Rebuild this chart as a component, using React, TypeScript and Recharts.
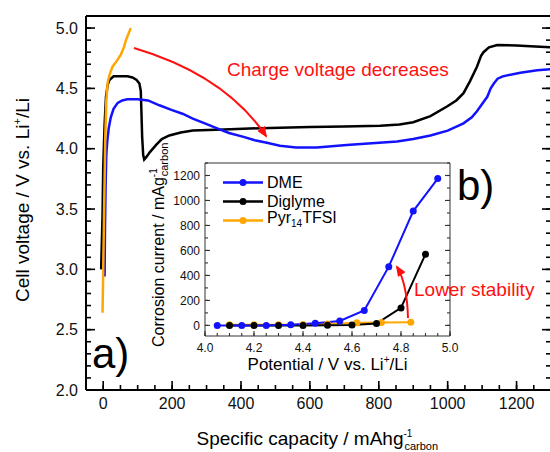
import React from "react";
import { LineChart, Line, XAxis, YAxis, Legend } from "recharts";

const FONT = "'Liberation Sans', Arial, Helvetica, sans-serif";

// panel a) first charge curves: capacity (mAh/g carbon) vs cell voltage (V)
const diglymeCapacity = [-6, -2, 0, 4, 8, 13, 18, 30, 47, 70, 85, 97, 105, 109, 111, 113, 116, 119, 125, 135, 153, 170, 192, 225, 260, 350, 455, 600, 700, 804, 860, 900, 950, 998, 1025, 1046, 1065, 1085, 1097, 1104, 1120, 1144, 1200, 1240, 1300];
const diglymeVoltage = [3.0, 3.45, 3.85, 4.2, 4.43, 4.53, 4.57, 4.6, 4.6, 4.6, 4.59, 4.57, 4.54, 4.48, 4.3, 4.1, 3.95, 3.91, 3.93, 3.97, 4.03, 4.08, 4.11, 4.135, 4.15, 4.16, 4.17, 4.18, 4.185, 4.19, 4.2, 4.22, 4.27, 4.35, 4.4, 4.46, 4.56, 4.68, 4.77, 4.8, 4.84, 4.86, 4.855, 4.85, 4.84];

const dmeCapacity = [4, 5, 7, 9, 12, 16, 22, 30, 42, 55, 70, 100, 130, 163, 200, 230, 260, 295, 329, 365, 405, 440, 475, 513, 560, 620, 707, 780, 853, 900, 950, 1000, 1046, 1070, 1085, 1100, 1115, 1125, 1134, 1145, 1160, 1211, 1260, 1300];
const dmeVoltage = [2.94, 3.3, 3.71, 3.95, 4.07, 4.17, 4.26, 4.33, 4.38, 4.4, 4.41, 4.41, 4.4, 4.36, 4.32, 4.29, 4.25, 4.21, 4.17, 4.13, 4.1, 4.07, 4.05, 4.025, 4.01, 4.01, 4.03, 4.045, 4.06, 4.08, 4.11, 4.15, 4.21, 4.26, 4.31, 4.37, 4.43, 4.5, 4.54, 4.58, 4.6, 4.63, 4.65, 4.66];

const pyrCapacity = [-2, 0, 3, 6, 9, 13, 18, 27, 40, 51, 60, 66, 73, 80];
const pyrVoltage = [2.64, 3.0, 3.57, 4.1, 4.4, 4.55, 4.61, 4.68, 4.73, 4.78, 4.84, 4.9, 4.95, 5.0];

// panel b) corrosion current (mA/g carbon) vs potential (V vs Li+/Li)
const dmePotential = [4.05, 4.15, 4.25, 4.35, 4.45, 4.55, 4.65, 4.75, 4.85, 4.95];
const dmeCurrent = [0, 0, 0, 5, 18, 35, 120, 470, 915, 1175];

const diglymePotential = [4.1, 4.2, 4.3, 4.4, 4.5, 4.6, 4.7, 4.8, 4.9];
const diglymeCurrent = [0, 0, 0, 0, 2, 3, 15, 140, 570];

const pyrPotential = [4.1, 4.2, 4.3, 4.4, 4.5, 4.62, 4.72, 4.84];
const pyrCurrent = [5, 5, 6, 8, 12, 22, 24, 26];

// tick positions (major ones get a label)
const capTicks = [-50, 0, 50, 100, 150, 200, 250, 300, 350, 400, 450, 500, 550, 600, 650, 700, 750, 800, 850, 900, 950, 1000, 1050, 1100, 1150, 1200, 1250, 1300];
const voltTicks = [2.0, 2.1, 2.2, 2.3, 2.4, 2.5, 2.6, 2.7, 2.8, 2.9, 3.0, 3.1, 3.2, 3.3, 3.4, 3.5, 3.6, 3.7, 3.8, 3.9, 4.0, 4.1, 4.2, 4.3, 4.4, 4.5, 4.6, 4.7, 4.8, 4.9, 5.0, 5.1];
const potTicks = [4.0, 4.05, 4.1, 4.15, 4.2, 4.25, 4.3, 4.35, 4.4, 4.45, 4.5, 4.55, 4.6, 4.65, 4.7, 4.75, 4.8, 4.85, 4.9, 4.95, 5.0];
const curTicks = [0, 100, 200, 300, 400, 500, 600, 700, 800, 900, 1000, 1100, 1200, 1300];

const BLUE = "#1212ff";
const BLACK = "#000000";
const ORANGE = "#ffa600";
const RED = "#ff1010";

const zip = (xs: number[], ys: number[]) => xs.map((c, i) => ({ c, v: ys[i] }));

const diglymeCurve = zip(diglymeCapacity, diglymeVoltage);
const dmeCurve = zip(dmeCapacity, dmeVoltage);
const pyrCurve = zip(pyrCapacity, pyrVoltage);
const dmeCorr = zip(dmePotential, dmeCurrent);
const diglymeCorr = zip(diglymePotential, diglymeCurrent);
const pyrCorr = zip(pyrPotential, pyrCurrent);

const insetSeries = [
  { key: "dme", color: BLUE, label: <>DME</> },
  { key: "diglyme", color: BLACK, label: <>Diglyme</> },
  {
    key: "pyr",
    color: ORANGE,
    label: (
      <>
        Pyr<sub style={{ fontSize: 10, verticalAlign: -4 }}>14</sub>TFSI
      </>
    ),
  },
];

const isMultiple = (v: number, step: number) =>
  Math.abs(v / step - Math.round(v / step)) < 1e-6;

type TickOpts = {
  side: "bottom" | "top" | "left" | "right";
  step: number;
  inset: number; // |tickSize| of the built-in (negative, inward) tick line
  majorLen: number;
  stroke: string;
  strokeWidth: number;
  label?: (v: number) => string;
  fontSize?: number;
  gap?: number;
};

// built-in tick lines point inward (negative tickSize); this adds the longer
// major marks and the labels, measured from the axis line
const tickRenderer = (o: TickOpts) => (props: any) => {
  const x = Number(props.x);
  const y = Number(props.y);
  const v = props.payload.value;
  const big = isMultiple(v, o.step);
  const fs = o.fontSize || 16;
  const g = o.gap || 0;
  let l: number[] | null = null;
  let text = null;
  if (o.side === "bottom") {
    const ay = y + o.inset;
    if (big) l = [x, ay, x, ay - o.majorLen];
    if (big && o.label)
      text = (
        <text x={x} y={ay + g} textAnchor="middle" fontSize={fs} fontFamily={FONT} fill="#111">
          {o.label(v)}
        </text>
      );
  } else if (o.side === "top") {
    const ay = y - o.inset;
    if (big) l = [x, ay, x, ay + o.majorLen];
  } else if (o.side === "left") {
    const ax = x - o.inset;
    if (big) l = [ax, y, ax + o.majorLen, y];
    if (big && o.label)
      text = (
        <text x={ax - g} y={y + fs * 0.36} textAnchor="end" fontSize={fs} fontFamily={FONT} fill="#111">
          {o.label(v)}
        </text>
      );
  } else {
    const ax = x + o.inset;
    if (big) l = [ax, y, ax - o.majorLen, y];
  }
  return (
    <g>
      {l && <path d={`M${l[0]},${l[1]}L${l[2]},${l[3]}`} stroke={o.stroke} strokeWidth={o.strokeWidth} fill="none" />}
      {text}
    </g>
  );
};

const mainAxis = { stroke: "#000", strokeWidth: 2 };
const mainTickLine = { stroke: "#000", strokeWidth: 1.6 };
const insetAxis = { stroke: "#333", strokeWidth: 1 };
const insetTickLine = { stroke: "#333", strokeWidth: 1.1 };

const MainXLabel = (p: any) => {
  const vb = p.viewBox;
  const x = vb.x + vb.width / 2 - 122;
  const y = vb.y + 55;
  return (
    <text x={x} y={y} fontSize={19} fontFamily={FONT} fill="#000">
      Specific capacity / mAhg
      <tspan dy={-8} fontSize={10}>-1</tspan>
      <tspan dx={-8} dy={13} fontSize={11}>carbon</tspan>
    </text>
  );
};

const MainYLabel = (p: any) => {
  const vb = p.viewBox;
  const x = vb.x + 29;
  const y = vb.y + vb.height / 2 - 3;
  return (
    <text x={x} y={y} transform={`rotate(-90, ${x}, ${y})`} textAnchor="middle" fontSize={19} fontFamily={FONT} fill="#000">
      Cell voltage / V vs. Li
      <tspan dy={-8} fontSize={11}>+</tspan>
      <tspan dy={8}>/Li</tspan>
    </text>
  );
};

const InsetXLabel = (p: any) => {
  const vb = p.viewBox;
  const x = vb.x + vb.width / 2;
  const y = vb.y + 34;
  return (
    <text x={x} y={y} textAnchor="middle" fontSize={17} fontFamily={FONT} fill="#000">
      Potential / V vs. Li
      <tspan dy={-7} fontSize={10}>+</tspan>
      <tspan dy={7}>/Li</tspan>
    </text>
  );
};

const InsetYLabel = (p: any) => {
  const vb = p.viewBox;
  const x = vb.x + 24;
  const y = vb.y + vb.height + 11;
  return (
    <text x={x} y={y} transform={`rotate(-90, ${x}, ${y})`} textAnchor="start" fontSize={16} fontFamily={FONT} fill="#000">
      Corrosion current / mAg
      <tspan dy={-7} fontSize={10}>-1</tspan>
      <tspan dx={-8} dy={11} fontSize={11}>carbon</tspan>
    </text>
  );
};

const renderLegend = () => (
  <div style={{ fontFamily: FONT, fontSize: 16, color: "#000", lineHeight: "19px" }}>
    {insetSeries.map((s) => (
      <div key={s.key} style={{ display: "flex", alignItems: "center", height: 19 }}>
        <svg width={44} height={19}>
          <line x1={0} x2={40} y1={9.5} y2={9.5} stroke={s.color} strokeWidth={2.5} />
          <circle cx={20} cy={9.5} r={3.5} fill={s.color} />
        </svg>
        <span>{s.label}</span>
      </div>
    ))}
  </div>
);

const App = () => {
  return (
    <div style={{ position: "absolute", left: 0, top: 0, width: 550, height: 452, overflow: "hidden", background: "#fff" }}>
      <div style={{ position: "absolute", left: 0, top: 0 }}>
        <LineChart width={553} height={452} margin={{ top: 15, right: 1, bottom: 0, left: 0 }}>
          <XAxis
            xAxisId="cap"
            dataKey="c"
            type="number"
            domain={[-50, 1300]}
            ticks={capTicks}
            interval={0}
            allowDataOverflow
            height={62}
            tickSize={-5}
            tickMargin={0}
            tickLine={mainTickLine}
            axisLine={mainAxis}
            tick={tickRenderer({ side: "bottom", step: 200, inset: 5, majorLen: 9, stroke: "#000", strokeWidth: 1.6, label: (v) => `${v}`, fontSize: 16, gap: 19 })}
            label={{ content: MainXLabel }}
          />
          <XAxis
            xAxisId="capTop"
            orientation="top"
            type="number"
            domain={[-50, 1300]}
            ticks={capTicks}
            interval={0}
            allowDataOverflow
            height={1}
            tickSize={-5}
            tickMargin={0}
            tickLine={mainTickLine}
            axisLine={mainAxis}
            tick={tickRenderer({ side: "top", step: 200, inset: 5, majorLen: 9, stroke: "#000", strokeWidth: 1.6 })}
          />
          <YAxis
            yAxisId="volt"
            type="number"
            domain={[2, 5.1]}
            ticks={voltTicks}
            interval={0}
            allowDataOverflow
            width={86}
            tickSize={-5}
            tickMargin={0}
            tickLine={mainTickLine}
            axisLine={mainAxis}
            tick={tickRenderer({ side: "left", step: 0.5, inset: 5, majorLen: 9, stroke: "#000", strokeWidth: 1.6, label: (v) => v.toFixed(1), fontSize: 16, gap: 8 })}
            label={{ content: MainYLabel }}
          />
          <YAxis
            yAxisId="voltRight"
            orientation="right"
            type="number"
            domain={[2, 5.1]}
            ticks={voltTicks}
            interval={0}
            allowDataOverflow
            width={1}
            tickSize={-5}
            tickMargin={0}
            tickLine={mainTickLine}
            axisLine={mainAxis}
            tick={tickRenderer({ side: "right", step: 0.5, inset: 5, majorLen: 9, stroke: "#000", strokeWidth: 1.6 })}
          />
          <Line xAxisId="cap" yAxisId="volt" data={diglymeCurve} dataKey="v" name="Diglyme" stroke={BLACK} strokeWidth={2.5} dot={false} activeDot={false} isAnimationActive={false} />
          <Line xAxisId="cap" yAxisId="volt" data={dmeCurve} dataKey="v" name="DME" stroke={BLUE} strokeWidth={2.5} dot={false} activeDot={false} isAnimationActive={false} />
          <Line xAxisId="cap" yAxisId="volt" data={pyrCurve} dataKey="v" name="Pyr14TFSI" stroke={ORANGE} strokeWidth={2.5} dot={false} activeDot={false} isAnimationActive={false} />
        </LineChart>
      </div>

      <div style={{ position: "absolute", left: 140, top: 140 }}>
        <LineChart width={320} height={240} margin={{ top: 22, right: 9, bottom: 0, left: 0 }}>
          <XAxis
            xAxisId="pot"
            dataKey="c"
            type="number"
            domain={[4, 5]}
            ticks={potTicks}
            interval={0}
            allowDataOverflow
            height={44}
            tickSize={-3}
            tickMargin={0}
            tickLine={insetTickLine}
            axisLine={insetAxis}
            tick={tickRenderer({ side: "bottom", step: 0.2, inset: 3, majorLen: 5, stroke: "#333", strokeWidth: 1.1, label: (v) => v.toFixed(1), fontSize: 12, gap: 16 })}
            label={{ content: InsetXLabel }}
          />
          <XAxis
            xAxisId="potTop"
            orientation="top"
            type="number"
            domain={[4, 5]}
            ticks={potTicks}
            interval={0}
            allowDataOverflow
            height={1}
            tickSize={-3}
            tickMargin={0}
            tickLine={insetTickLine}
            axisLine={insetAxis}
            tick={tickRenderer({ side: "top", step: 0.2, inset: 3, majorLen: 5, stroke: "#333", strokeWidth: 1.1 })}
          />
          <YAxis
            yAxisId="cur"
            type="number"
            domain={[-85, 1300]}
            ticks={curTicks}
            interval={0}
            allowDataOverflow
            width={65}
            tickSize={-3}
            tickMargin={0}
            tickLine={insetTickLine}
            axisLine={insetAxis}
            tick={tickRenderer({ side: "left", step: 200, inset: 3, majorLen: 5, stroke: "#333", strokeWidth: 1.1, label: (v) => `${v}`, fontSize: 12, gap: 5 })}
            label={{ content: InsetYLabel }}
          />
          <YAxis
            yAxisId="curRight"
            orientation="right"
            type="number"
            domain={[-85, 1300]}
            ticks={curTicks}
            interval={0}
            allowDataOverflow
            width={1}
            tickSize={-3}
            tickMargin={0}
            tickLine={insetTickLine}
            axisLine={insetAxis}
            tick={tickRenderer({ side: "right", step: 200, inset: 3, majorLen: 5, stroke: "#333", strokeWidth: 1.1 })}
          />
          <Legend
            layout="vertical"
            align="center"
            verticalAlign="middle"
            content={renderLegend}
            wrapperStyle={{ left: 83, top: 33, width: 130 }}
          />
          <Line xAxisId="pot" yAxisId="cur" data={pyrCorr} dataKey="v" name="Pyr14TFSI" stroke={ORANGE} strokeWidth={2} dot={{ r: 3.5, fill: ORANGE, stroke: ORANGE, strokeWidth: 0 }} activeDot={false} isAnimationActive={false} />
          <Line xAxisId="pot" yAxisId="cur" data={diglymeCorr} dataKey="v" name="Diglyme" stroke={BLACK} strokeWidth={2} dot={{ r: 3.5, fill: BLACK, stroke: BLACK, strokeWidth: 0 }} activeDot={false} isAnimationActive={false} />
          <Line xAxisId="pot" yAxisId="cur" data={dmeCorr} dataKey="v" name="DME" stroke={BLUE} strokeWidth={2} dot={{ r: 3.5, fill: BLUE, stroke: BLUE, strokeWidth: 0 }} activeDot={false} isAnimationActive={false} />
        </LineChart>
      </div>

      <svg width={550} height={452} style={{ position: "absolute", left: 0, top: 0, pointerEvents: "none" }}>
        <defs>
          <marker id="redHead" markerWidth={11} markerHeight={9} refX={9} refY={4.5} orient="auto" markerUnits="userSpaceOnUse">
            <path d="M0,0 L11,4.5 L0,9 z" fill={RED} />
          </marker>
        </defs>
        <path d="M134,48 Q225,75 266,136" fill="none" stroke={RED} strokeWidth={2} markerEnd="url(#redHead)" />
        <text x={227} y={76} fontSize={19} fontFamily={FONT} fill={RED}>
          Charge voltage decreases
        </text>
        <path d="M408,318 Q407,283 397,267" fill="none" stroke={RED} strokeWidth={2} markerEnd="url(#redHead)" />
        <text x={414} y={296} fontSize={19} fontFamily={FONT} fill={RED}>
          Lower stability
        </text>
        <text x={92} y={368} fontSize={42} fontFamily={FONT} fill="#000">
          a)
        </text>
        <text x={457} y={200} fontSize={42} fontFamily={FONT} fill="#000">
          b)
        </text>
      </svg>
    </div>
  );
};

export default App;
